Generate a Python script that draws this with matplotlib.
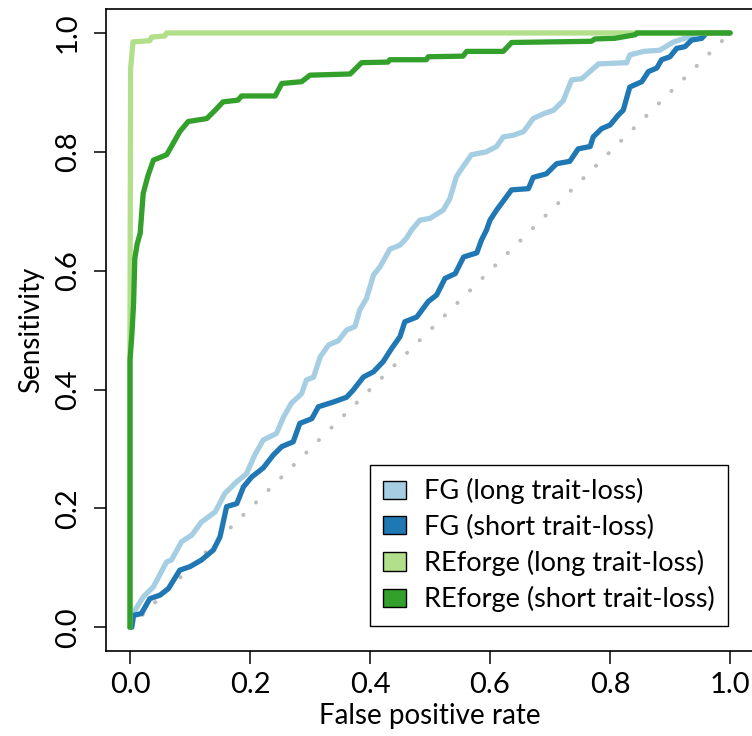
import numpy as np
import matplotlib
matplotlib.use("Agg")
import matplotlib.pyplot as plt
from matplotlib.patches import Patch

plt.rcParams['font.family'] = ['Lato', 'DejaVu Sans']

# ROC curves (false positive rate, sensitivity)
fg_long_fpr = [0, 0.003, 0.022, 0.039, 0.061, 0.069, 0.086, 0.103, 0.119, 0.142, 0.158, 0.178, 0.194,
               0.208, 0.222, 0.244, 0.256, 0.269, 0.286, 0.294, 0.306, 0.317, 0.331, 0.347, 0.361,
               0.375, 0.383, 0.394, 0.406, 0.417, 0.433, 0.45, 0.461, 0.469, 0.483, 0.5, 0.522, 0.533,
               0.544, 0.553, 0.569, 0.594, 0.611, 0.622, 0.639, 0.656, 0.672, 0.689, 0.706, 0.722,
               0.736, 0.753, 0.781, 0.828, 0.833, 0.856, 0.883, 0.906, 0.933, 0.944, 1.0]
fg_long_tpr = [0, 0.02, 0.051, 0.068, 0.11, 0.113, 0.144, 0.155, 0.177, 0.194, 0.225, 0.245, 0.258,
               0.29, 0.315, 0.326, 0.354, 0.377, 0.393, 0.416, 0.421, 0.455, 0.475, 0.482, 0.50,
               0.506, 0.534, 0.553, 0.593, 0.607, 0.636, 0.643, 0.655, 0.668, 0.685, 0.688, 0.702, 0.721,
               0.758, 0.772, 0.795, 0.800, 0.809, 0.825, 0.828, 0.834, 0.856, 0.864, 0.870, 0.886,
               0.921, 0.923, 0.948, 0.950, 0.963, 0.969, 0.971, 0.985, 0.994, 1.0, 1.0]

fg_short_fpr = [0, 0.003, 0.006, 0.019, 0.033, 0.05, 0.064, 0.083, 0.1, 0.119, 0.139, 0.15, 0.161,
                0.178, 0.189, 0.203, 0.222, 0.239, 0.253, 0.272, 0.283, 0.303, 0.314, 0.339, 0.361,
                0.372, 0.389, 0.406, 0.422, 0.436, 0.45, 0.458, 0.478, 0.497, 0.511, 0.525, 0.542,
                0.556, 0.578, 0.586, 0.594, 0.6, 0.611, 0.636, 0.664, 0.672, 0.694, 0.711, 0.733,
                0.747, 0.767, 0.772, 0.786, 0.8, 0.814, 0.822, 0.833, 0.853, 0.864, 0.878, 0.886,
                0.9, 0.911, 0.925, 0.936, 0.953, 0.958, 0.962, 1.0]
fg_short_tpr = [0, 0.0, 0.02, 0.023, 0.048, 0.054, 0.065, 0.096, 0.102, 0.113, 0.130, 0.152, 0.203,
                0.208, 0.236, 0.253, 0.268, 0.290, 0.304, 0.312, 0.343, 0.351, 0.371, 0.379, 0.387,
                0.399, 0.421, 0.430, 0.447, 0.469, 0.489, 0.514, 0.522, 0.548, 0.559, 0.587, 0.595,
                0.623, 0.630, 0.652, 0.668, 0.685, 0.702, 0.736, 0.738, 0.757, 0.763, 0.780, 0.784,
                0.805, 0.809, 0.825, 0.839, 0.845, 0.862, 0.870, 0.909, 0.918, 0.935, 0.941, 0.955,
                0.960, 0.974, 0.977, 0.988, 0.991, 0.997, 1.0, 1.0]

re_long_fpr = [0, 0, 0.001, 0.005, 0.033, 0.036, 0.058, 0.061, 1.0]
re_long_tpr = [0, 0.5, 0.94, 0.985, 0.987, 0.993, 0.995, 1.0, 1.0]

re_short_fpr = [0, 0, 0.003, 0.006, 0.008, 0.012, 0.017, 0.022, 0.03, 0.039, 0.061, 0.069, 0.083,
                0.097, 0.128, 0.142, 0.155, 0.18, 0.186, 0.242, 0.253, 0.286, 0.30, 0.367, 0.386,
                0.43, 0.433, 0.494, 0.497, 0.555, 0.561, 0.622, 0.636, 0.769, 0.775, 0.808, 0.842,
                0.845, 1.0]
re_short_tpr = [0, 0.45, 0.49, 0.545, 0.62, 0.645, 0.663, 0.73, 0.76, 0.786, 0.795, 0.809, 0.834,
                0.851, 0.856, 0.870, 0.884, 0.887, 0.894, 0.894, 0.915, 0.918, 0.929, 0.931, 0.950,
                0.951, 0.955, 0.955, 0.960, 0.961, 0.969, 0.969, 0.984, 0.986, 0.99, 0.991, 0.997,
                1.0, 1.0]

labels = ["FG (long trait-loss)", "FG (short trait-loss)",
          "REforge (long trait-loss)", "REforge (short trait-loss)"]
colors = ["#a6cee3", "#1f78b4", "#b2df8a", "#33a02c"]
ticks = [0.0, 0.2, 0.4, 0.6, 0.8, 1.0]

fig = plt.figure(figsize=(7.52, 7.36), dpi=100)
ax = fig.add_axes([106/752, 85/736, 648/752, 641.8/736])

ax.plot([0, 1], [0, 1], color="#bdbdbd", lw=2.9, linestyle=(0, (0.05, 4.35)),
        dash_capstyle="round")

curves = [(fg_long_fpr, fg_long_tpr), (fg_short_fpr, fg_short_tpr),
          (re_long_fpr, re_long_tpr), (re_short_fpr, re_short_tpr)]
for (x, y), c in zip(curves, colors):
    ax.plot(x, y, color=c, lw=3.8, solid_capstyle="round", solid_joinstyle="round")

ax.set_xlim(-0.04, 1.04)
ax.set_ylim(-0.04, 1.04)
ax.set_xticks(ticks)
ax.set_yticks(ticks)
ax.set_xticklabels(["%.1f" % t for t in ticks])
ax.set_yticklabels(["%.1f" % t for t in ticks], rotation=90, va="center")
ax.tick_params(direction="out", length=9, width=1.1, labelsize=21, pad=6)
ax.tick_params(axis="y", pad=9)
for s in ax.spines.values():
    s.set_linewidth(1.2)

ax.set_xlabel("False positive rate", fontsize=20, labelpad=4)
ax.set_ylabel("Sensitivity", fontsize=20, labelpad=8)

handles = [Patch(facecolor=c, edgecolor="black", lw=1.0) for c in colors]
leg = ax.legend(handles, labels, loc="lower right", bbox_to_anchor=(0.96, 0.039),
                borderaxespad=0, fontsize=19.5, fancybox=False, framealpha=1,
                edgecolor="black", handlelength=0.85, handleheight=0.65,
                labelspacing=0.38, handletextpad=0.65, borderpad=0.5)
leg.get_frame().set_linewidth(1.0)

fig.savefig("out.png", dpi=100)
